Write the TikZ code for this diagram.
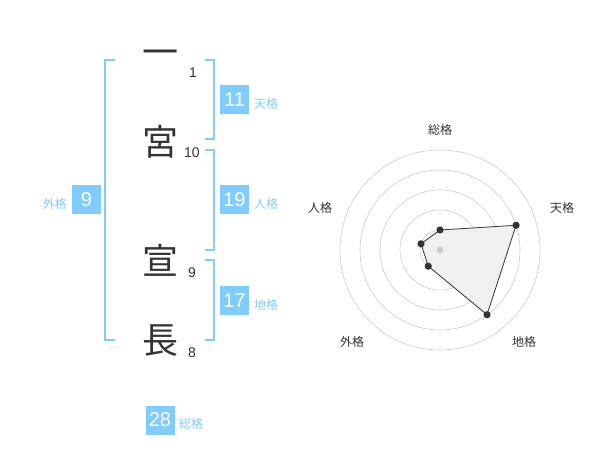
\documentclass[tikz,border=0pt]{standalone}
\usepackage{fontspec}
\setmainfont{Noto Sans CJK JP}
\newfontfamily\digitfont{Liberation Sans}
\usetikzlibrary{calc}
\definecolor{kakublue}{HTML}{80CCFF}
\definecolor{kakutext}{HTML}{333333}
\tikzset{
  moji/.style={font=\fontsize{36}{36}\selectfont, text=kakutext, inner sep=0},
  kazu/.style={font=\digitfont\fontsize{14}{14}\selectfont, text=kakutext, inner sep=0},
  kakubox/.style={fill=kakublue, text=white, minimum size=29, inner sep=0, font=\digitfont\fontsize{20}{20}\selectfont},
  kakuname/.style={text=kakublue, font=\fontsize{12}{12}\selectfont, inner sep=0},
  bracket/.style={draw=kakublue, line width=2},
  ring/.style={draw=black!20, line width=0.6},
  axisname/.style={text=kakutext, font=\fontsize{12}{12}\selectfont, inner sep=0},
  dot/.style={fill=kakutext}
}
\begin{document}
\begin{tikzpicture}[x=1pt, y=-1pt]
  \useasboundingbox (0,0) rectangle (600,470);
  % name, one character per line
  \node[moji] (ichi) at (160,58) {一};
  \node[moji] (miya) at (160,142) {宮};
  \node[moji] (sen) at (160,260) {宣};
  \node[moji] (cho) at (160,341) {長};
  \node[kazu] (n1) at (193,73) {1};
  \node[kazu] (n2) at (192,153) {10};
  \node[kazu] (n3) at (192,273) {9};
  \node[kazu] (n4) at (192,353) {8};
  % brackets
  \draw[bracket] (115,60) -- (105,60) -- (105,340) -- (115,340);
  \foreach \top/\bot in {60/139, 150/250, 260/340}
    \draw[bracket] (205,\top) -- (214,\top) -- (214,\bot) -- (205,\bot);
  % scores
  \node[kakubox] (ten) at (234.5,100) {11};
  \node[kakuname, anchor=west] (tenname) at (254,104) {天格};
  \node[kakubox] (jin) at (234.5,200) {19};
  \node[kakuname, anchor=west] (jinname) at (254,204) {人格};
  \node[kakubox] (chi) at (234.5,301) {17};
  \node[kakuname, anchor=west] (chiname) at (254,305) {地格};
  \node[kakubox] (gai) at (86.5,200) {9};
  \node[kakuname, anchor=east] (gainame) at (67,204) {外格};
  \node[kakubox] (so) at (160,420) {28};
  \node[kakuname, anchor=west] (soname) at (179,424) {総格};
  % radar
  \coordinate (c) at (440,250);
  \foreach \r in {20,40,...,100}
    \draw[ring] (c) circle (\r);
  \node[axisname] (lso) at (440,130) {総格};
  \node[axisname] (lten) at (562,208) {天格};
  \node[axisname] (lchi) at (524,342) {地格};
  \node[axisname] (lgai) at (352,342) {外格};
  \node[axisname] (ljin) at (320,208) {人格};
  \coordinate (pso) at ($(c)+(-90:20)$);
  \coordinate (pten) at ($(c)+(-18:80)$);
  \coordinate (pchi) at ($(c)+(54:80)$);
  \coordinate (pgai) at ($(c)+(126:20)$);
  \coordinate (pjin) at ($(c)+(198:20)$);
  \draw[fill=black!6, draw=kakutext, line width=0.8] (pso) -- (pten) -- (pchi) -- (pgai) -- (pjin) -- cycle;
  \fill[black!20] (c) circle (3.5);
  \foreach \p in {pso,pten,pchi,pgai,pjin}
    \fill[dot] (\p) circle (3.6);
\end{tikzpicture}
\end{document}
